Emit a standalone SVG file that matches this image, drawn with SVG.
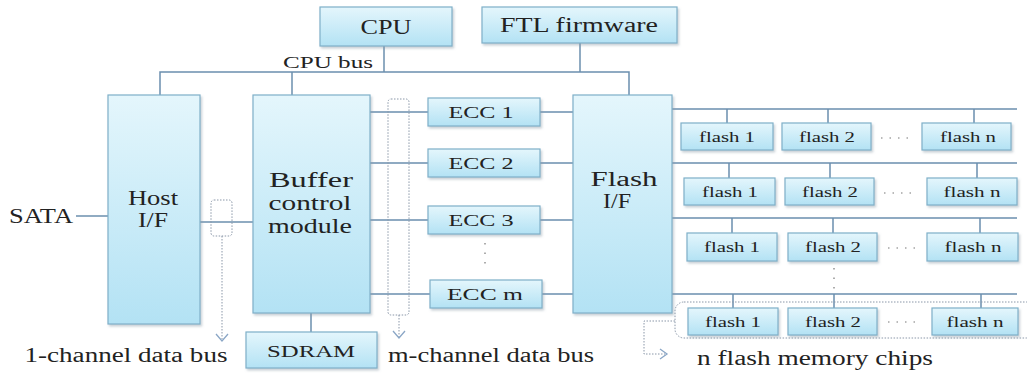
<svg xmlns="http://www.w3.org/2000/svg" width="1027" height="375" viewBox="0 0 1027 375">
<style>
.box{fill:url(#g);stroke:#7fb0c8;stroke-width:1.2;filter:url(#sh)}
.ln{stroke:#6b8fae;stroke-width:1.5;fill:none}
.dot{stroke:#8a97a8;stroke-width:1;fill:none;stroke-dasharray:1.5 1.5}
.arr{stroke:#8aa6c6;stroke-width:1.3;fill:none}
.dots{stroke:#777;stroke-width:1.2;fill:none}
text{font-family:"Liberation Serif","DejaVu Serif",serif;fill:#222;text-anchor:middle}
.l{font-size:20px}
.m{font-size:17px}
.s{font-size:15px}
</style>
<defs>
<linearGradient id="g" x1="0" y1="0" x2="0" y2="1">
<stop offset="0" stop-color="#e4f6fc"/>
<stop offset="1" stop-color="#b3e2f4"/>
</linearGradient>
<filter id="sh" x="-10%" y="-10%" width="130%" height="140%">
<feDropShadow dx="1.5" dy="2" stdDeviation="1.2" flood-color="#8a9aa6" flood-opacity="0.45"/>
</filter>
</defs>

<g id="connectors">
<path class="ln" d="M160,95 V72 H629 V95"/>
<path class="ln" d="M292,72 V95"/>
<path class="ln" d="M384,46 V72"/>
<path class="ln" d="M580,43 V72"/>
<path class="ln" d="M76,216 H108"/>
<path class="ln" d="M200,222 H253"/>
<path class="ln" d="M311,313 V332"/>
<path class="ln" d="M370,112 H428 M370,163 H428 M370,220 H428 M370,294 H430"/>
<path class="ln" d="M540,112 H573 M540,163 H573 M540,220 H573 M542,294 H573"/>
<path class="ln" d="M672,109 H1017 M672,163 H1017 M672,218 H1017 M672,294 H1017"/>
<path class="ln" d="M727,109 V123 M828,109 V123 M974,109 V123"/>
<path class="ln" d="M729,163 V178 M830,163 V178 M977,163 V178"/>
<path class="ln" d="M732,218 V233 M833,218 V233 M980,218 V233"/>
<path class="ln" d="M733,294 V308 M834,294 V308 M981,294 V308"/>
<rect class="dot" x="211" y="200" width="21" height="36" rx="3"/>
<path class="dot" d="M222,236 V339"/>
<path class="arr" d="M216,334 L222,341 L228,334"/>
<rect class="dot" x="388" y="99" width="21" height="216" rx="3"/>
<path class="dot" d="M399,315 V337"/>
<path class="arr" d="M393,331 L399,338 L405,331"/>
<rect class="dot" x="675" y="302" width="360" height="36" rx="9"/>
<path class="dot" d="M675,321 H644 V354 H665"/>
<path class="arr" d="M660,349 L667,354 L660,359"/>
<path class="dots" stroke-dasharray="1.5 7" d="M881,138 H914 M884,193 H917 M888,248 H921 M888,322 H921"/>
<path class="dots" stroke-dasharray="1.5 8" d="M485,243 V264"/>
<path class="dots" stroke-dasharray="1.5 8" d="M834,268 V289"/>
</g>

<g id="cpu"><rect class="box" x="320" y="7" width="132" height="39"/><text class="l" x="386" y="34" textLength="51" lengthAdjust="spacingAndGlyphs">CPU</text></g>
<g id="ftl"><rect class="box" x="482" y="7" width="195" height="36"/><text class="l" x="579" y="32" textLength="158" lengthAdjust="spacingAndGlyphs">FTL firmware</text></g>
<g id="cpubus-label"><text class="m" x="328" y="68" textLength="90" lengthAdjust="spacingAndGlyphs">CPU bus</text></g>
<g id="sata"><text class="l" x="41" y="223" textLength="64" lengthAdjust="spacingAndGlyphs">SATA</text></g>
<g id="host"><rect class="box" x="108" y="95" width="92" height="229"/>
<text class="l" x="153" y="205" textLength="50" lengthAdjust="spacingAndGlyphs">Host</text>
<text class="l" x="153" y="227" textLength="30" lengthAdjust="spacingAndGlyphs">I/F</text></g>
<g id="buffer"><rect class="box" x="253" y="95" width="117" height="218"/>
<text class="l" x="311" y="187" textLength="84" lengthAdjust="spacingAndGlyphs">Buffer</text>
<text class="l" x="310" y="210" textLength="83" lengthAdjust="spacingAndGlyphs">control</text>
<text class="l" x="310" y="233" textLength="84" lengthAdjust="spacingAndGlyphs">module</text></g>
<g id="sdram"><rect class="box" x="246" y="332" width="131" height="36"/><text class="m" x="311" y="357" textLength="88" lengthAdjust="spacingAndGlyphs">SDRAM</text></g>
<g id="ecc1"><rect class="box" x="428" y="98" width="112" height="28"/><text class="m" x="481" y="118" textLength="65" lengthAdjust="spacingAndGlyphs">ECC 1</text></g>
<g id="ecc2"><rect class="box" x="428" y="149" width="112" height="28"/><text class="m" x="481" y="169" textLength="65" lengthAdjust="spacingAndGlyphs">ECC 2</text></g>
<g id="ecc3"><rect class="box" x="428" y="206" width="112" height="28"/><text class="m" x="481" y="226" textLength="65" lengthAdjust="spacingAndGlyphs">ECC 3</text></g>
<g id="eccm"><rect class="box" x="430" y="280" width="112" height="28"/><text class="m" x="485" y="300" textLength="76" lengthAdjust="spacingAndGlyphs">ECC m</text></g>
<g id="flashif"><rect class="box" x="573" y="95" width="99" height="218"/>
<text class="l" x="624" y="186" textLength="67" lengthAdjust="spacingAndGlyphs">Flash</text>
<text class="l" x="617" y="208" textLength="28" lengthAdjust="spacingAndGlyphs">I/F</text></g>

<g id="r1c1"><rect class="box" x="681" y="123" width="92" height="27"/><text class="s" x="727" y="142" textLength="56" lengthAdjust="spacingAndGlyphs">flash 1</text></g>
<g id="r1c2"><rect class="box" x="782" y="123" width="89" height="27"/><text class="s" x="827" y="142" textLength="56" lengthAdjust="spacingAndGlyphs">flash 2</text></g>
<g id="r1cn"><rect class="box" x="922" y="123" width="89" height="27"/><text class="s" x="968" y="142" textLength="56" lengthAdjust="spacingAndGlyphs">flash n</text></g>

<g id="r2c1"><rect class="box" x="684" y="178" width="91" height="27"/><text class="s" x="730" y="197" textLength="56" lengthAdjust="spacingAndGlyphs">flash 1</text></g>
<g id="r2c2"><rect class="box" x="785" y="178" width="89" height="27"/><text class="s" x="830" y="197" textLength="56" lengthAdjust="spacingAndGlyphs">flash 2</text></g>
<g id="r2cn"><rect class="box" x="927" y="178" width="90" height="27"/><text class="s" x="972" y="197" textLength="57" lengthAdjust="spacingAndGlyphs">flash n</text></g>

<g id="r3c1"><rect class="box" x="687" y="233" width="90" height="28"/><text class="s" x="732" y="252" textLength="56" lengthAdjust="spacingAndGlyphs">flash 1</text></g>
<g id="r3c2"><rect class="box" x="788" y="233" width="89" height="28"/><text class="s" x="833" y="252" textLength="56" lengthAdjust="spacingAndGlyphs">flash 2</text></g>
<g id="r3cn"><rect class="box" x="927" y="233" width="91" height="28"/><text class="s" x="973" y="252" textLength="57" lengthAdjust="spacingAndGlyphs">flash n</text></g>

<g id="r4c1"><rect class="box" x="688" y="308" width="90" height="27"/><text class="s" x="733" y="327" textLength="56" lengthAdjust="spacingAndGlyphs">flash 1</text></g>
<g id="r4c2"><rect class="box" x="788" y="308" width="89" height="27"/><text class="s" x="833" y="327" textLength="56" lengthAdjust="spacingAndGlyphs">flash 2</text></g>
<g id="r4cn"><rect class="box" x="932" y="308" width="86" height="27"/><text class="s" x="975" y="327" textLength="57" lengthAdjust="spacingAndGlyphs">flash n</text></g>

<g id="labels">
<text class="l" x="126" y="362" textLength="203" lengthAdjust="spacingAndGlyphs">1-channel data bus</text>
<text class="l" x="491" y="362" textLength="206" lengthAdjust="spacingAndGlyphs">m-channel data bus</text>
<text class="l" x="815" y="365" textLength="236" lengthAdjust="spacingAndGlyphs">n flash memory chips</text>
</g>
</svg>
